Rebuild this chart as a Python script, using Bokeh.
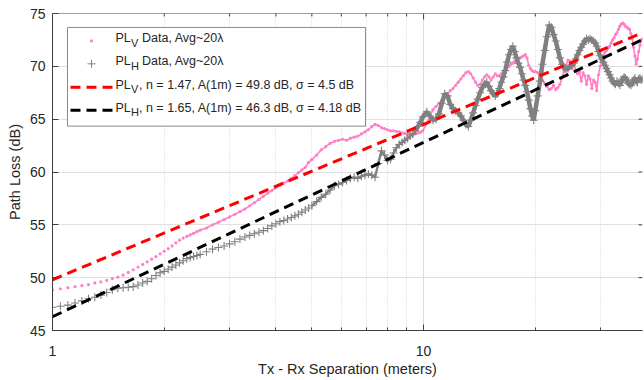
import math
from bokeh.plotting import figure
from bokeh.models import FixedTicker, Range1d, BasicTickFormatter, Span
from bokeh.core.properties import value
from bokeh.embed import file_html
from bokeh.resources import INLINE

# ---------------- data ----------------
dist_m = [
    1.00, 1.05, 1.10, 1.15, 1.20, 1.25, 1.30, 1.35, 1.40, 1.45, 1.50, 1.55, 1.60, 1.65, 1.70, 1.75,
    1.80, 1.85, 1.90, 1.95, 2.00, 2.05, 2.10, 2.15, 2.20, 2.25, 2.30, 2.35, 2.40, 2.45, 2.50,
    2.6, 2.7, 2.8, 2.9, 3.0, 3.1, 3.2, 3.3, 3.4, 3.5, 3.6, 3.7, 3.8, 3.9, 4.0, 4.1, 4.2, 4.3, 4.4,
    4.5, 4.6, 4.7, 4.8, 4.9, 5.0,
    5.15, 5.30, 5.45, 5.60, 5.75, 5.90, 6.05, 6.20, 6.35, 6.50, 6.65, 6.80, 6.95, 7.10, 7.25, 7.40,
    7.55, 7.70, 7.85, 8.00, 8.15, 8.30, 8.45, 8.60, 8.75, 8.90, 9.05, 9.20, 9.35, 9.50, 9.65, 9.80, 9.95,
    10.2, 10.4, 10.6, 10.8, 11.0, 11.2, 11.4, 11.6, 11.8, 12.0, 12.2, 12.4, 12.6, 12.8, 13.0, 13.2,
    13.4, 13.6, 13.8, 14.0, 14.2, 14.4, 14.6, 14.8, 15.0, 15.2, 15.4, 15.6, 15.8, 16.0, 16.2, 16.4,
    16.6, 16.8, 17.0, 17.2, 17.4, 17.6, 17.8, 18.0, 18.2, 18.4, 18.6, 18.8, 19.0, 19.2, 19.4, 19.6,
    19.8, 20.0,
    20.3, 20.6, 20.9, 21.2, 21.5, 21.8, 22.1,
    22.4, 22.7, 23.0, 23.3, 23.6, 23.9, 24.2,
    24.5, 24.8, 25.1, 25.4, 25.7, 26.0, 26.3,
    26.6, 26.9, 27.2, 27.5, 27.8, 28.1, 28.4,
    28.7, 29.0, 29.3, 29.6, 29.9, 30.2, 30.5,
    30.8, 31.1, 31.4, 31.7, 32.0, 32.3, 32.6,
    32.9, 33.2, 33.5, 33.8, 34.1, 34.4, 34.7,
    35.0, 35.3, 35.6, 35.9, 36.2, 36.5, 36.8,
    37.1, 37.4, 37.7, 38.0, 38.3, 38.6, 38.9,
]

pl_v = [
    48.85, 48.95, 49.05, 49.15, 49.25, 49.35, 49.5, 49.6, 49.75, 49.9, 50.05, 50.25, 50.5, 50.75, 51.0,
    51.25, 51.5, 51.75, 52.0, 52.25, 52.5, 52.75, 53.0, 53.3, 53.55, 53.75, 53.9, 54.05, 54.2, 54.35, 54.5,
    54.7, 55.0, 55.25, 55.5, 55.75, 56.0, 56.25, 56.5, 56.8, 57.1, 57.4, 57.7, 58.0, 58.25, 58.5,
    58.75, 58.95, 59.15, 59.4, 59.65, 59.95, 60.2, 60.45, 60.9, 61.2,
    61.6, 62.1, 62.4, 62.7, 62.9, 63.0, 63.1, 63.0, 63.2, 63.3, 63.4, 63.6, 63.8, 64.0, 64.3, 64.5,
    64.4, 64.2, 64.1, 64.0, 63.9, 63.9, 63.85, 63.8, 63.7, 63.65, 63.6, 63.6, 63.55, 63.6, 63.7, 63.75, 63.9,
    64.6, 65.3, 65.9, 66.2, 66.5, 66.8, 67.1, 67.4, 67.7, 67.9, 68.2, 68.5, 68.8, 69.1, 69.4, 69.5,
    69.3, 68.9, 68.5, 68.2, 68.3, 68.7, 69.0, 69.2, 69.0, 68.7, 69.0, 69.3, 69.1, 69.1, 69.3, 69.5,
    69.7, 69.9, 70.0, 70.2, 70.3, 70.5, 70.6, 70.7, 70.8, 70.9, 71.0, 71.1, 70.8, 70.1, 69.8, 69.6,
    69.5, 69.5,
    69.4, 69.0, 68.7, 68.4, 68.1, 67.8, 67.9,
    68.2, 67.8, 68.0, 68.3, 68.9, 69.5, 70.1,
    70.6, 70.5, 69.8, 70.2, 69.6, 69.3, 69.5,
    68.6, 69.4, 69.1, 68.3, 69.1, 68.8, 67.9,
    68.7, 68.5, 67.7, 69.2, 70.0, 70.7, 71.0,
    71.3, 71.5, 71.7, 71.9, 72.2, 72.5, 72.7,
    73.0, 73.2, 73.5, 73.8, 74.0, 74.1, 74.0,
    73.8, 73.7, 73.6, 73.5, 73.1, 72.6, 71.8,
    71.0, 70.2, 70.7, 71.4, 72.0, 72.5, 72.6,
]

pl_h = [
    47.2, 47.3, 47.4, 47.6, 47.8, 48.0, 48.15, 48.35, 48.6, 48.85, 49.0, 49.05, 49.1, 49.15, 49.3,
    49.5, 49.65, 49.9, 50.2, 50.45, 50.6, 50.8, 51.0, 51.2, 51.4, 51.6, 51.8, 51.9, 52.0, 52.1, 52.2,
    52.45, 52.7, 52.85, 53.0, 53.2, 53.4, 53.65, 53.85, 54.0, 54.15, 54.3, 54.45, 54.65, 54.9, 55.1,
    55.3, 55.4, 55.55, 55.7, 55.85, 56.0, 56.2, 56.4, 56.6, 56.8,
    57.2, 57.6, 57.9, 58.3, 58.7, 58.85, 59.0, 59.2, 59.4, 59.5, 59.4, 59.6, 59.7, 59.8, 59.7, 59.5,
    60.8, 62.0, 61.6, 61.1, 61.2, 61.8, 62.3, 62.6, 62.8, 63.0, 63.2, 63.4, 63.6, 63.9, 64.3, 64.7, 65.2,
    65.7, 65.3, 64.9, 65.0, 65.5, 66.5, 67.4, 67.2, 66.4, 66.0, 65.8, 65.6, 65.3, 64.9, 64.5, 64.3,
    64.9, 65.6, 66.3, 66.9, 67.5, 68.0, 68.3, 68.5, 68.1, 67.7, 67.4, 67.2, 67.4, 67.9, 68.5, 69.0,
    69.6, 70.4, 71.1, 71.6, 71.9, 71.4, 70.8, 70.3, 69.9, 69.3, 68.7, 68.2, 67.6, 66.8, 66.0, 65.3,
    64.9, 65.8,
    67.2, 68.6, 70.2, 71.5, 72.8, 73.9, 73.7,
    73.0, 72.4, 71.6, 70.8, 70.2, 69.9, 69.7,
    69.8, 70.0, 70.1, 70.3, 70.7, 71.1, 71.5,
    71.8, 72.1, 72.4, 72.6, 72.5, 72.6, 72.5,
    72.4, 72.2, 71.9, 71.4, 71.0, 70.7, 70.4,
    70.1, 69.8, 69.5, 69.2, 68.9, 68.6, 68.4,
    68.3, 68.6, 68.4, 68.2, 68.5, 68.8, 69.0,
    68.9, 68.7, 68.4, 68.3, 68.2, 68.4, 68.7,
    68.9, 68.6, 68.5, 68.8, 68.9, 68.7, 68.8,
]

assert len(dist_m) == len(pl_v) == len(pl_h), (len(dist_m), len(pl_v), len(pl_h))

# fitted models PL = A(1m) + 10 n log10(d)
fit_v_n, fit_v_A, fit_v_sigma = 1.47, 49.8, 4.5
fit_h_n, fit_h_A, fit_h_sigma = 1.65, 46.3, 4.18

x_major_ticks = [1, 10]
x_minor_ticks = [2, 3, 4, 5, 6, 7, 8, 9, 20, 30]
y_ticks = [45, 50, 55, 60, 65, 70, 75]
X_MIN, X_MAX = 1, 38.9
Y_MIN, Y_MAX = 45, 75

legend_labels = [
    ("PL", "V", "Data, Avg~20\u03bb"),
    ("PL", "H", "Data, Avg~20\u03bb"),
    ("PL", "V", ", n = %.2f, A(1m) = %.1f dB, \u03c3 = %.1f dB" % (fit_v_n, fit_v_A, fit_v_sigma)),
    ("PL", "H", ", n = %.2f, A(1m) = %.1f dB, \u03c3 = %.2f dB" % (fit_h_n, fit_h_A, fit_h_sigma)),
]

# ---------------- styles / layout ----------------
PINK = "#ff80c4"
GREY = "#808080"
RED = "#ff0000"
BLACK = "#000000"
TXT = "#262626"
AXC = "#404040"
FONT = "Liberation Sans"

# frame geometry in canvas pixels
B_LEFT, B_TOP, FRAME_W, FRAME_H = 52, 13, 590, 318
B_RIGHT, B_BOTTOM = 1, 48
W = B_LEFT + FRAME_W + B_RIGHT
H = B_TOP + FRAME_H + B_BOTTOM
FL, FR, FT, FB = B_LEFT, B_LEFT + FRAME_W, B_TOP, B_TOP + FRAME_H


def px_x(px):
    lo, hi = math.log10(X_MIN), math.log10(X_MAX)
    return 10 ** (lo + (px - FL) / (FR - FL) * (hi - lo))


def px_y(py):
    return Y_MIN + (FB - py) / (FB - FT) * (Y_MAX - Y_MIN)


p = figure(width=W, height=H, x_axis_type="log",
           x_range=Range1d(X_MIN, X_MAX), y_range=Range1d(Y_MIN, Y_MAX),
           output_backend="svg", toolbar_location=None,
           min_border_left=B_LEFT, min_border_right=B_RIGHT, min_border_top=B_TOP,
           min_border_bottom=B_BOTTOM)
p.outline_line_color = None
p.background_fill_color = "white"
p.border_fill_color = "white"

xt = FixedTicker(ticks=x_major_ticks, minor_ticks=x_minor_ticks)
yt = FixedTicker(ticks=y_ticks)

ax = p.xaxis[0]
ax.ticker = xt
ax.formatter = BasicTickFormatter()
ax.axis_label = "Tx - Rx Separation (meters)"
ay = p.yaxis[0]
ay.ticker = yt
ay.axis_label = "Path Loss (dB)"

for a in (ax, ay):
    a.axis_line_color = AXC
    a.major_tick_line_color = AXC
    a.minor_tick_line_color = AXC
    a.major_tick_in = 6
    a.major_tick_out = 0
    a.minor_tick_in = 3
    a.minor_tick_out = 0
    a.major_label_text_font = FONT
    a.major_label_text_font_size = "14px"
    a.major_label_text_color = TXT
    a.axis_label_text_font = FONT
    a.axis_label_text_font_size = "14.5px"
    a.axis_label_text_font_style = "normal"
    a.axis_label_text_color = TXT
ax.major_label_standoff = 15
ax.axis_label_standoff = 2
ay.major_label_standoff = 7
ay.axis_label_standoff = 4

p.xgrid.ticker = xt
p.ygrid.ticker = yt
p.xgrid.grid_line_color = "#dcdcdc"
p.xgrid.minor_grid_line_color = "#d2d2d2"
p.xgrid.minor_grid_line_dash = "1 2"
p.ygrid.grid_line_color = "#e0e0e0"

# top border line and inward ticks (box look), right-side inward ticks
p.add_layout(Span(location=Y_MAX, dimension="width", line_color=AXC, line_width=1))
p.segment(x0=x_major_ticks, x1=x_major_ticks, y0=[Y_MAX] * 2, y1=[px_y(FT + 6)] * 2,
          line_color=AXC, line_width=1)
p.segment(x0=x_minor_ticks, x1=x_minor_ticks, y0=[Y_MAX] * len(x_minor_ticks),
          y1=[px_y(FT + 3)] * len(x_minor_ticks), line_color=AXC, line_width=1)
p.segment(x0=[px_x(FR - 4)] * len(y_ticks), x1=[X_MAX] * len(y_ticks), y0=y_ticks, y1=y_ticks,
          line_color=AXC, line_width=1)

# ---------------- data marks ----------------
first_dense_v = next(i for i, d in enumerate(dist_m) if d >= 2.3)
first_dense_h = next(i for i, d in enumerate(dist_m) if d >= 5.0)
first_heavy_h = next(i for i, d in enumerate(dist_m) if d >= 9.5)
p.line(dist_m[first_dense_v:], pl_v[first_dense_v:], line_color=PINK, line_width=1.6)
p.scatter(dist_m, pl_v, marker="circle", size=3.2, fill_color=PINK, line_color=None)
p.line(dist_m[first_dense_h:], pl_h[first_dense_h:], line_color=GREY, line_width=2.4)
p.line(dist_m[first_heavy_h:], pl_h[first_heavy_h:], line_color=GREY, line_width=4.5)
p.scatter(dist_m, pl_h, marker="cross", size=8, line_color=GREY, line_width=1.1)

fx = [X_MIN, X_MAX]
p.line(fx, [fit_v_A + 10 * fit_v_n * math.log10(d) for d in fx],
       line_color=RED, line_width=3, line_dash="10 6")
p.line(fx, [fit_h_A + 10 * fit_h_n * math.log10(d) for d in fx],
       line_color=BLACK, line_width=3, line_dash="10 6")

# ---------------- legend (drawn by hand) ----------------
p.quad(left=[px_x(FL + 15)], right=[px_x(FL + 313)], top=[px_y(FT + 14)], bottom=[px_y(FT + 113)],
       fill_color="white", line_color="#8a8a8a", line_width=1)

row_y = [FT + 27.5, FT + 50.5, FT + 74.0, FT + 97.0]
mk_x = px_x(FL + 39)
p.scatter([mk_x], [px_y(row_y[0])], marker="circle", size=3.2, fill_color=PINK, line_color=None)
p.scatter([mk_x], [px_y(row_y[1])], marker="cross", size=8, line_color=GREY, line_width=1)
p.line([px_x(FL + 18), px_x(FL + 60)], [px_y(row_y[2])] * 2, line_color=RED, line_width=3,
       line_dash="10 6")
p.line([px_x(FL + 18), px_x(FL + 60)], [px_y(row_y[3])] * 2, line_color=BLACK, line_width=3,
       line_dash="10 6")

for ry, (main, sub, rest) in zip(row_y, legend_labels):
    ty = ry - 2.5
    p.text([px_x(FL + 63)], [px_y(ty)], text=[main], text_font=value(FONT), text_font_size="12.5px",
           text_color=TXT, text_baseline="middle", text_align="left")
    p.text([px_x(FL + 78.5)], [px_y(ty + 4.5)], text=[sub], text_font=value(FONT),
           text_font_size="11px", text_color=TXT, text_baseline="middle", text_align="left")
    rest_x = FL + (89.5 if rest.startswith("Data") else 86.5)
    p.text([px_x(rest_x)], [px_y(ty)], text=[rest], text_font=value(FONT),
           text_font_size="12.5px", text_color=TXT, text_baseline="middle", text_align="left")

open("out.html", "w").write(file_html(p, INLINE))
